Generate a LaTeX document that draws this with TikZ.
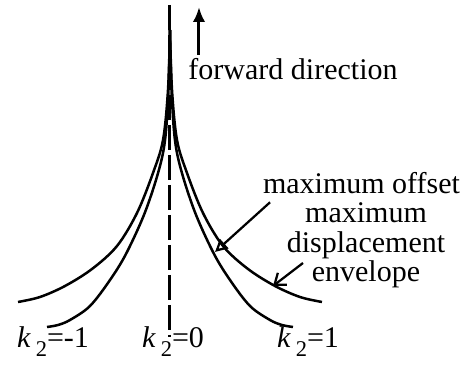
\documentclass[tikz,border=0pt]{standalone}
\usepackage{fontspec}
\setmainfont{Liberation Serif}
\usepackage{tikz}
\usetikzlibrary{arrows.meta}

\newcommand{\kval}[1]{\textit{k}\,\raisebox{-0.6ex}{\fontsize{9}{9}\selectfont 2}=#1}

\begin{document}
\begin{tikzpicture}[x=0.4pt,y=-0.4pt,
    curve/.style={line width=1pt},
    lbl/.style={font=\fontsize{12}{11.8}\selectfont, inner sep=0pt, align=center},
    pointer/.style={line width=0.9pt}]
  \useasboundingbox (0,0) rectangle (469,365);
  % the two envelopes, drawn half by half
  \foreach \s in {1,-1} {
    \begin{scope}[shift={(170,0)}, xscale=\s]
      \draw[curve] plot[smooth, tension=0.55] coordinates
        {(0,30) (2,90) (7,140) (17,173) (33,213) (53,246) (78,269) (105,286) (130,297) (152,302)};
      \draw[curve] plot[smooth, tension=0.55] coordinates
        {(0,30) (2,100) (7,153) (23,207) (43,252) (60,280) (80,306) (100,320) (112,325) (123,327)};
    \end{scope}
  }
  \draw[line width=1.2pt, dash pattern=on 10pt off 2pt] (170,5) -- (170,337);

  \node[lbl, anchor=base west] (fwd) at (188,80) {forward direction};
  \coordinate (fwdtail) at (199,55);
  \coordinate (fwdtip) at (199,7);
  \draw[line width=1.2pt, -{Latex[length=6pt,width=5pt]}] (fwdtail) -- (fwdtip);

  \node[lbl, anchor=base] (offsetlabel) at (361.5,194) {maximum offset};
  \node[lbl, anchor=base] (envlabel) at (366,282) {maximum\\displacement\\envelope};
  %\node at (230,265) {.};
  \coordinate (offsettip) at (215,252);
  \coordinate (envfrom) at (303,263);
  \coordinate (envtip) at (273,286);
  \draw[pointer, -{Triangle[open,length=5pt,width=5pt]}] (offsetlabel.south west) ++(3pt,-3pt) -- (offsettip);
  \draw[pointer, -{Straight Barb[length=4pt,width=6pt]}] (envfrom) -- (envtip);

  \node[lbl, anchor=base] (kneg) at (53,348) {\kval{-1}};
  \node[lbl, anchor=base] (kzero) at (173,348) {\kval{0}};
  \node[lbl, anchor=base] (kpos) at (308,348) {\kval{1}};
\end{tikzpicture}
\end{document}
